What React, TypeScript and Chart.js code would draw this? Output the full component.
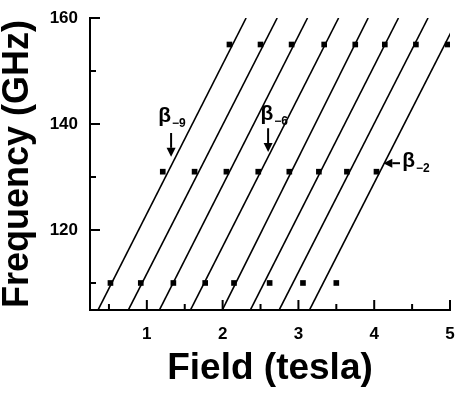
import React, { useEffect, useRef } from "react";
import { Chart, registerables } from "chart.js";

Chart.register(...registerables);

// Data
const rowFrequencies = [110, 131, 155];
const rowFields = [
  [0.52, 0.92, 1.35, 1.77, 2.15, 2.62, 3.06, 3.5],
  [1.21, 1.63, 2.05, 2.47, 2.88, 3.27, 3.64, 4.03],
  [2.09, 2.5, 2.91, 3.34, 3.75, 4.14, 4.55, 4.97],
];
const lineFreqs = [105, 160];
const lineFieldAtLow = [0.36, 0.76, 1.17, 1.58, 2.0, 2.37, 2.75, 3.15];
const lineFieldAtHigh = [2.31, 2.72, 3.12, 3.53, 3.92, 4.32, 4.71, 5.11];
const xTickValues = [1, 2, 3, 4, 5];
const xMinorTicks = [0.5, 1.5, 2.5, 3.5, 4.5];
const yTickValues = [120, 140, 160];
const yMinorTicks = [110, 130, 150];
const xRange = [0.25, 5];
const yRange = [104.9, 160];

// Annotations (data coordinates)
const annSub = ["\u22129", "\u22126", "\u22122"];
const annLabelX = [1.15, 2.5, 4.37];
const annLabelY = [141.5, 141.9, 133.0];
const annArrowFromX = [1.32, 2.6, 4.34];
const annArrowFromY = [138.3, 139.2, 132.6];
const annArrowToX = [1.32, 2.6, 4.12];
const annArrowToY = [133.8, 134.7, 132.6];

const FONT = "'Liberation Sans', Arial, Helvetica, sans-serif";

const decorPlugin = {
  id: "decor",
  afterDraw(chart: any) {
    const { ctx, chartArea } = chart;
    const xs = chart.scales.x;
    const ys = chart.scales.y;
    ctx.save();
    ctx.strokeStyle = "#000";
    ctx.fillStyle = "#000";
    ctx.lineWidth = 2;
    ctx.lineCap = "butt";
    const drawXT = (v: number, len: number) => {
      const px = xs.getPixelForValue(v);
      ctx.beginPath();
      ctx.moveTo(px, chartArea.bottom);
      ctx.lineTo(px, chartArea.bottom - len);
      ctx.stroke();
    };
    xTickValues.forEach((v) => drawXT(v, 10));
    xMinorTicks.forEach((v) => drawXT(v, 6));
    const drawYT = (v: number, len: number) => {
      const py = ys.getPixelForValue(v);
      ctx.beginPath();
      ctx.moveTo(chartArea.left, py);
      ctx.lineTo(chartArea.left + len, py);
      ctx.stroke();
    };
    yTickValues.forEach((v) => drawYT(v, 10));
    yMinorTicks.forEach((v) => drawYT(v, 6));

    for (let i = 0; i < annSub.length; i++) {
      const lx = xs.getPixelForValue(annLabelX[i]);
      const ly = ys.getPixelForValue(annLabelY[i]);
      ctx.font = `bold 21px ${FONT}`;
      ctx.textAlign = "left";
      ctx.textBaseline = "middle";
      ctx.fillText("\u03B2", lx, ly);
      const bw = ctx.measureText("\u03B2").width;
      ctx.font = `bold 12px ${FONT}`;
      ctx.fillText(annSub[i], lx + bw + 1, ly + 8);

      const fx = xs.getPixelForValue(annArrowFromX[i]);
      const fy = ys.getPixelForValue(annArrowFromY[i]);
      const tx = xs.getPixelForValue(annArrowToX[i]);
      const ty = ys.getPixelForValue(annArrowToY[i]);
      const ang = Math.atan2(ty - fy, tx - fx);
      const head = 9;
      const hw = 4.5;
      const bx = tx - head * Math.cos(ang);
      const by = ty - head * Math.sin(ang);
      ctx.lineWidth = 2;
      ctx.beginPath();
      ctx.moveTo(fx, fy);
      ctx.lineTo(bx, by);
      ctx.stroke();
      ctx.beginPath();
      ctx.moveTo(tx, ty);
      ctx.lineTo(bx + hw * Math.sin(ang), by - hw * Math.cos(ang));
      ctx.lineTo(bx - hw * Math.sin(ang), by + hw * Math.cos(ang));
      ctx.closePath();
      ctx.fill();
    }
    ctx.restore();
  },
};

export default function App() {
  const ref = useRef<HTMLCanvasElement | null>(null);
  useEffect(() => {
    document.body.style.margin = "0";
    if (!ref.current) return;
    const lineSets = lineFieldAtLow.map((lo, i) => ({
      type: "scatter" as const,
      data: [
        { x: lo, y: lineFreqs[0] },
        { x: lineFieldAtHigh[i], y: lineFreqs[1] },
      ],
      showLine: true,
      borderColor: "#000",
      borderWidth: 1.6,
      pointRadius: 0,
      fill: false,
    }));
    const pts: { x: number; y: number }[] = [];
    rowFields.forEach((row, r) =>
      row.forEach((f) => pts.push({ x: f, y: rowFrequencies[r] }))
    );
    const chart = new Chart(ref.current, {
      type: "scatter",
      data: {
        datasets: [
          ...lineSets,
          {
            type: "scatter",
            data: pts,
            pointStyle: "rect",
            pointRadius: 4,
            backgroundColor: "#000",
            borderColor: "#000",
            borderWidth: 0,
          } as any,
        ],
      },
      options: {
        animation: false,
        responsive: false,
        events: [],
        layout: { padding: { top: 18, right: 7, left: 0, bottom: 0 } },
        plugins: { legend: { display: false }, tooltip: { enabled: false } },
        scales: {
          x: {
            type: "linear",
            min: xRange[0],
            max: xRange[1],
            afterBuildTicks: (s: any) => {
              s.ticks = xTickValues.map((value) => ({ value }));
            },
            afterFit: (s: any) => {
              s.height = 88;
              s.paddingLeft = 0;
              s.paddingRight = 0;
            },
            grid: { display: false, drawTicks: false },
            border: { display: true, color: "#000", width: 2 },
            ticks: {
              color: "#000",
              padding: 14,
              maxRotation: 0,
              font: { family: FONT, size: 17, weight: "bold" },
            },
            title: {
              display: true,
              text: "Field (tesla)",
              color: "#000",
              font: { family: FONT, size: 37, weight: "bold", lineHeight: 1 },
              padding: { top: 0, bottom: 11 },
            },
          },
          y: {
            type: "linear",
            min: yRange[0],
            max: yRange[1],
            afterBuildTicks: (s: any) => {
              s.ticks = yTickValues.map((value) => ({ value }));
            },
            afterFit: (s: any) => {
              s.width = 90;
              s.paddingTop = 0;
              s.paddingBottom = 0;
            },
            grid: { display: false, drawTicks: false },
            border: { display: true, color: "#000", width: 2 },
            ticks: {
              color: "#000",
              padding: 12,
              font: { family: FONT, size: 17, weight: "bold" },
            },
            title: {
              display: true,
              text: "Frequency (GHz)",
              color: "#000",
              font: { family: FONT, size: 36, weight: "bold", lineHeight: 1 },
              padding: { top: 0, bottom: 0 },
            },
          },
        },
      },
      plugins: [decorPlugin],
    });
    return () => chart.destroy();
  }, []);
  return (
    <div style={{ position: "absolute", left: 0, top: 0, width: 457, height: 398, background: "#fff" }}>
      <canvas ref={ref} width={457} height={398} style={{ width: 457, height: 398, display: "block" }} />
    </div>
  );
}
